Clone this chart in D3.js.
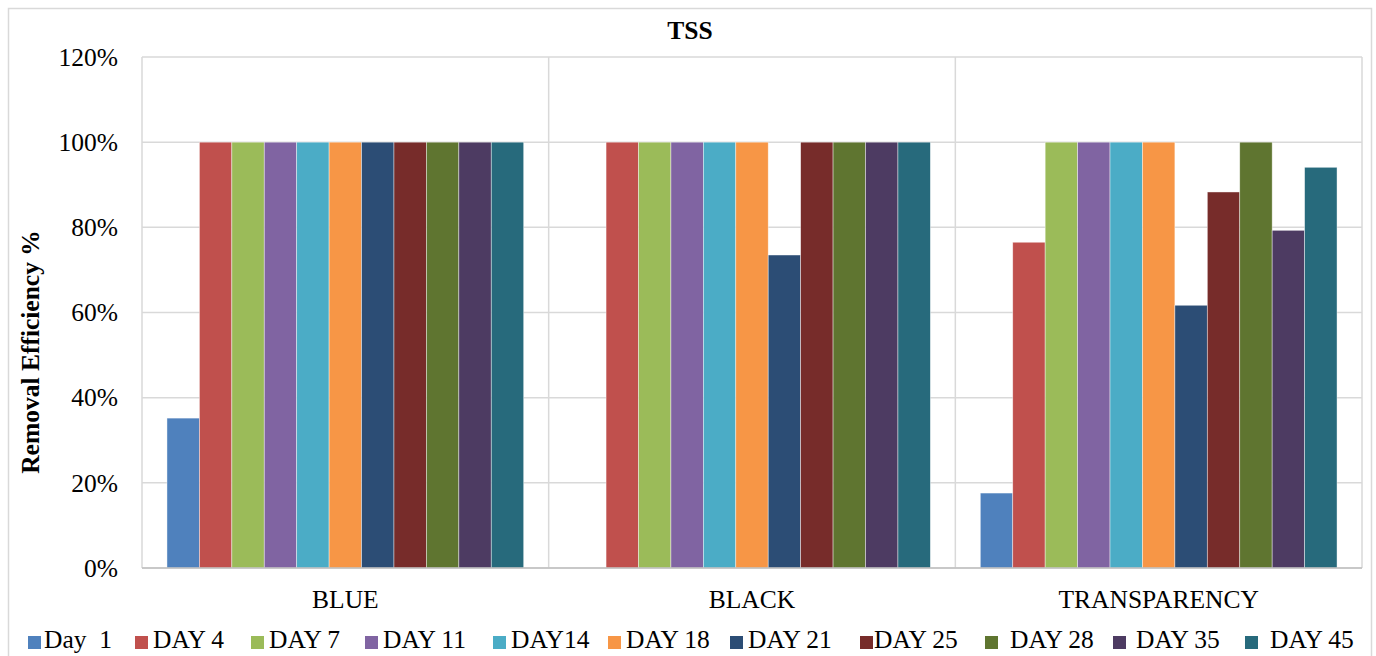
<!DOCTYPE html>
<html>
<head>
<meta charset="utf-8">
<script src="https://cdn.jsdelivr.net/npm/d3@7/dist/d3.min.js"></script>
<style>
  html, body { margin: 0; padding: 0; background: #fff; }
  svg { display: block; font-family: "Liberation Serif", "Times New Roman", serif; }
</style>
</head>
<body>
<svg id="chart" width="1376" height="656"></svg>
<script>
// ---- data ----
const categories = ["BLUE", "BLACK", "TRANSPARENCY"];
const seriesNames = ["Day  1", "DAY 4", "DAY 7", "DAY 11", "DAY14", "DAY 18", "DAY 21", "DAY 25", "DAY 28", "DAY 35", "DAY 45"];
const blueValues = [35.2, 100, 100, 100, 100, 100, 100, 100, 100, 100, 100];
const blackValues = [0, 100, 100, 100, 100, 100, 73.5, 100, 100, 100, 100];
const transparencyValues = [17.6, 76.5, 100, 100, 100, 100, 61.7, 88.3, 100, 79.3, 94.1];
const yTicks = [0, 20, 40, 60, 80, 100, 120];
const seriesColors = ["#4F81BD", "#C0504D", "#9BBB59", "#8064A2", "#4BACC6", "#F79646", "#2C4D75", "#772C2A", "#5F7530", "#4D3B62", "#276A7C"];

// ---- layout ----
const valuesByCategory = [blueValues, blackValues, transparencyValues];
const plot = { left: 142, right: 1362, top: 57, bottom: 568 };
const legendSwatchX = [28, 135, 251, 365, 493, 608, 730, 860, 985, 1113, 1245];
const legendTextGap = [16, 18, 18, 18, 18, 18, 18, 14, 25, 23, 25];
const fontSize = 25.5;

const svg = d3.select("#chart");
const gridColor = "#d9d9d9";

// outer chart border
svg.append("rect").attr("x", 8.5).attr("y", 8.5).attr("width", 1363).attr("height", 660)
  .attr("fill", "#fff").attr("stroke", gridColor).attr("stroke-width", 1.5);

const y = d3.scaleLinear().domain([0, 120]).range([plot.bottom, plot.top]);
const x0 = d3.scaleBand().domain(categories).range([plot.left, plot.right]).padding(0);
const x1 = d3.scaleBand().domain(seriesNames).range([0, x0.bandwidth()]).paddingInner(0).paddingOuter(0.77);
const color = d3.scaleOrdinal().domain(seriesNames).range(seriesColors);

// gridlines
svg.append("g").selectAll("line").data(yTicks).join("line")
  .attr("x1", plot.left).attr("x2", plot.right)
  .attr("y1", d => y(d)).attr("y2", d => y(d))
  .attr("stroke", gridColor).attr("stroke-width", 1.5);

// plot area left/right border
svg.append("line").attr("x1", plot.left).attr("x2", plot.left).attr("y1", plot.top).attr("y2", plot.bottom)
  .attr("stroke", gridColor).attr("stroke-width", 1.5);
svg.append("line").attr("x1", plot.right).attr("x2", plot.right).attr("y1", plot.top).attr("y2", plot.bottom)
  .attr("stroke", gridColor).attr("stroke-width", 1.5);

// category separators
svg.append("g").selectAll("line").data(categories.slice(1)).join("line")
  .attr("x1", d => x0(d)).attr("x2", d => x0(d))
  .attr("y1", plot.top).attr("y2", plot.bottom)
  .attr("stroke", gridColor).attr("stroke-width", 1.5);

// bars
const groups = svg.append("g").selectAll("g").data(categories).join("g")
  .attr("transform", d => `translate(${x0(d)},0)`);
groups.selectAll("rect")
  .data((c, i) => seriesNames.map((s, j) => ({ s, v: valuesByCategory[i][j] })))
  .join("rect")
  .attr("x", d => x1(d.s))
  .attr("width", x1.bandwidth())
  .attr("y", d => y(d.v))
  .attr("height", d => y(0) - y(d.v))
  .attr("fill", d => color(d.s))
  .attr("stroke", "#ffffff").attr("stroke-opacity", 0.6).attr("stroke-width", 0.7);

// x axis baseline
svg.append("line").attr("x1", plot.left).attr("x2", plot.right).attr("y1", plot.bottom).attr("y2", plot.bottom)
  .attr("stroke", "#bfbfbf").attr("stroke-width", 1.5);

// y axis tick labels
const yAxis = d3.axisLeft(y).tickValues(yTicks).tickFormat(d => d + "%").tickSize(0).tickPadding(0);
const yg = svg.append("g").attr("transform", `translate(118,0)`).call(yAxis);
yg.select(".domain").remove();
yg.selectAll("text").attr("font-size", fontSize).attr("fill", "#000")
  .attr("font-family", "'Liberation Serif', 'Times New Roman', serif");

// x axis category labels
const xAxis = d3.axisBottom(x0).tickSize(0).tickPadding(0);
const xg = svg.append("g").attr("transform", `translate(0,${plot.bottom})`).call(xAxis);
xg.select(".domain").remove();
xg.selectAll("text").attr("font-size", fontSize).attr("fill", "#000").attr("dy", null).attr("y", 40)
  .attr("font-family", "'Liberation Serif', 'Times New Roman', serif");

// title
svg.append("text").attr("x", 690).attr("y", 39).attr("text-anchor", "middle")
  .attr("font-size", fontSize).attr("font-weight", "bold").text("TSS");

// y axis title
svg.append("text").attr("transform", "translate(39,352) rotate(-90)")
  .attr("text-anchor", "middle").attr("font-size", fontSize).attr("font-weight", "bold")
  .text("Removal Efficiency %");

// legend
const legend = svg.append("g").selectAll("g").data(seriesNames).join("g")
  .attr("transform", (d, i) => `translate(${legendSwatchX[i]},0)`);
legend.append("rect").attr("x", 0).attr("y", 636).attr("width", 13).attr("height", 13)
  .attr("fill", d => color(d));
legend.append("text").attr("x", (d, i) => legendTextGap[i]).attr("y", 648)
  .attr("font-size", fontSize).attr("fill", "#000").style("white-space", "pre")
  .text(d => d);
</script>
</body>
</html>
